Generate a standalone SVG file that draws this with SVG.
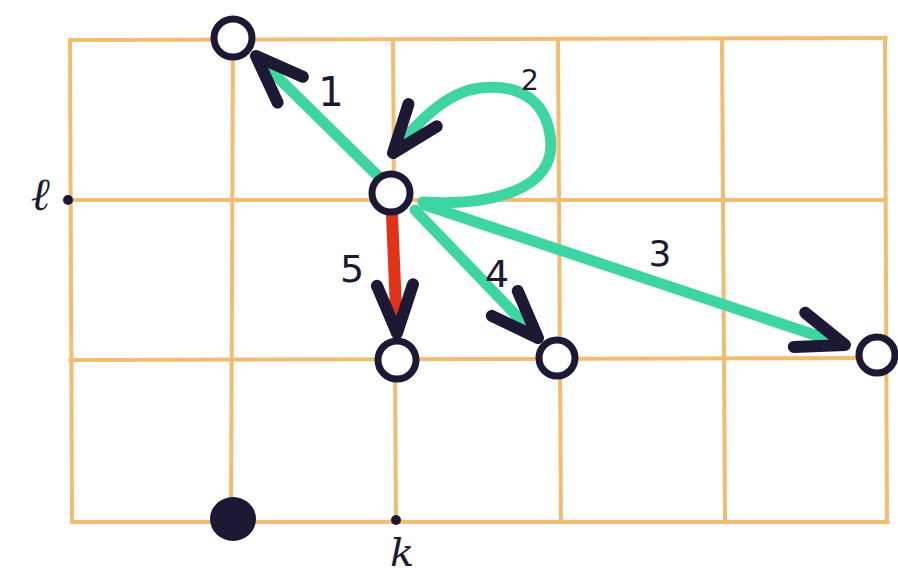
<svg xmlns="http://www.w3.org/2000/svg" width="898" height="581" viewBox="0 0 898 581">
<style>
.grid{stroke:#f2bd72;stroke-width:4;stroke-linecap:round;fill:none}
.node{fill:#ffffff;stroke:#1d1935;stroke-width:7}
.edge{fill:none;stroke:#3fd5a2;stroke-width:11;stroke-linecap:round}
.red{fill:none;stroke:#e0341a;stroke-width:12;stroke-linecap:round}
.lbl{font-family:"DejaVu Sans",sans-serif;fill:#1d1935;text-anchor:middle}
.script{font-family:"DejaVu Serif",serif;font-style:italic;fill:#1d1935;text-anchor:middle}
</style>
<defs>
<marker id="ah" viewBox="-60 -28 66 56" refX="0" refY="0" markerWidth="66" markerHeight="56" markerUnits="userSpaceOnUse" orient="auto">
<path d="M-48,-18 L0,0 L-48,18" fill="none" stroke="#1d1935" stroke-width="12" stroke-linecap="round" stroke-linejoin="round"/>
</marker>
</defs>
<rect width="898" height="581" fill="#ffffff"/>
<g id="grid">
<line class="grid" x1="70" y1="40" x2="886" y2="38"/>
<line class="grid" x1="70" y1="200" x2="886" y2="200"/>
<line class="grid" x1="70" y1="360" x2="886" y2="358"/>
<line class="grid" x1="72" y1="522" x2="888" y2="522"/>
<line class="grid" x1="70" y1="40" x2="72" y2="522"/>
<line class="grid" x1="233" y1="40" x2="231" y2="520"/>
<line class="grid" x1="393" y1="40" x2="396" y2="520"/>
<line class="grid" x1="558" y1="40" x2="561" y2="522"/>
<line class="grid" x1="722" y1="40" x2="725" y2="520"/>
<line class="grid" x1="885" y1="38" x2="887" y2="522"/>
</g>
<g id="connectors">
<path class="edge" d="M378,176 L256,56" marker-end="url(#ah)"/>
<path class="edge" d="M423,202 C485,206 560,192 550,135 C544,95 512,84 480,88 C445,92 415,125 393,153" marker-end="url(#ah)"/>
<path class="edge" d="M425,205 L845,345" marker-end="url(#ah)"/>
<path class="edge" d="M415,210 L538,338" marker-end="url(#ah)"/>
<path class="red" d="M392,215 L397,333" marker-end="url(#ah)"/>
</g>
<g id="node-top"><circle class="node" cx="233" cy="38" r="19"/></g>
<g id="node-center"><circle class="node" cx="391" cy="193" r="19"/></g>
<g id="node-below"><circle class="node" cx="397" cy="360" r="19"/></g>
<g id="node-mid"><circle class="node" cx="557" cy="358" r="18"/></g>
<g id="node-right"><circle class="node" cx="877" cy="355" r="18"/></g>
<g id="node-s"><ellipse cx="233" cy="519" rx="23" ry="22" fill="#1d1935"/></g>
<g id="point-l"><circle cx="68" cy="200" r="5" fill="#1d1935"/><text class="script" x="40" y="210" font-size="46">ℓ</text></g>
<g id="point-k"><circle cx="396" cy="520" r="5" fill="#1d1935"/><text class="script" x="402" y="566" font-size="40">k</text></g>
<g id="labels">
<text class="lbl" x="331" y="106" font-size="40">1</text>
<text class="lbl" x="530" y="90" font-size="28">2</text>
<text class="lbl" x="660" y="266" font-size="36">3</text>
<text class="lbl" x="497" y="287" font-size="38">4</text>
<text class="lbl" x="352" y="282" font-size="38">5</text>
</g>
</svg>
